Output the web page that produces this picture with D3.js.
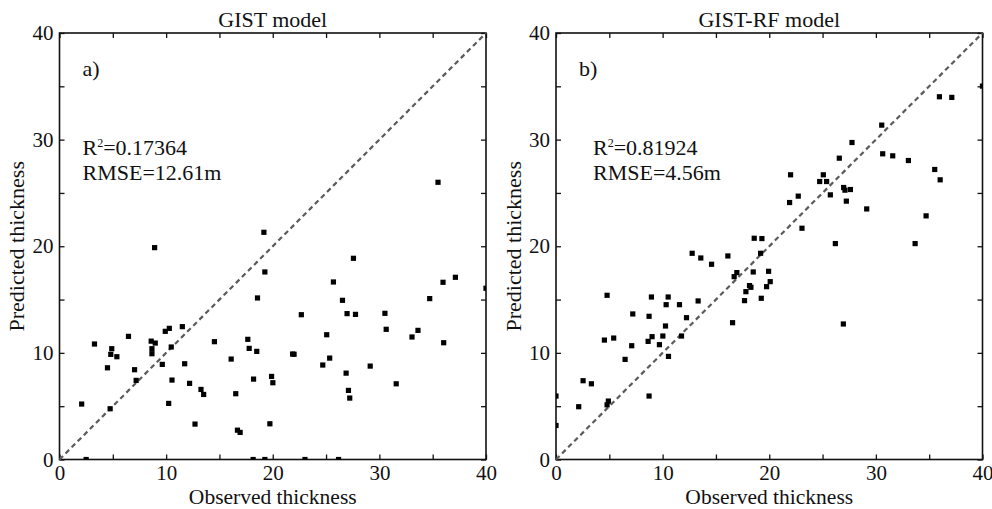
<!DOCTYPE html>
<html>
<head>
<meta charset="utf-8">
<script src="https://cdn.jsdelivr.net/npm/d3@7"></script>
<style>
  html, body { margin: 0; padding: 0; background: #fff; }
  svg { display: block; font-family: "Liberation Serif", "Times New Roman", serif; }
</style>
</head>
<body>
<svg id="chart" width="992" height="509"></svg>
<script>
// ---- Data ----
const xTicks = [0, 5, 10, 15, 20, 25, 30, 35, 40];
const yTicks = [0, 5, 10, 15, 20, 25, 30, 35, 40];
const panelTitles = ["GIST model", "GIST-RF model"];
const panelLetters = ["a)", "b)"];
const r2Values = ["0.17364", "0.81924"];
const rmseValues = ["12.61m", "4.56m"];

// GIST model: observed / predicted
const gistObserved = [2.08, 2.5, 3.28, 4.5, 4.75, 4.81, 4.9, 5.38, 6.47, 7.04, 7.19, 8.6, 8.67, 8.67, 8.92, 8.98, 9.64, 9.92, 10.24, 10.3, 10.48, 10.55, 11.52, 11.74, 12.2, 12.71, 13.27, 13.52, 14.53, 16.1, 16.53, 16.69, 16.94, 17.66, 17.79, 18.16, 18.2, 18.5, 18.57, 19.17, 19.26, 19.26, 19.73, 19.89, 20.01, 21.86, 22.0, 22.68, 23.02, 24.69, 25.06, 25.34, 25.69, 26.17, 26.54, 26.88, 26.97, 27.1, 27.22, 27.57, 27.76, 29.14, 30.52, 30.64, 31.58, 33.06, 33.62, 34.72, 35.5, 35.97, 36.03, 37.13, 40.0];
const gistPredicted = [5.2, 0, 10.83, 8.6, 4.76, 9.86, 10.39, 9.64, 11.55, 8.42, 7.42, 11.1, 10.39, 9.92, 19.87, 10.92, 8.92, 12.02, 5.26, 12.3, 10.55, 7.45, 12.46, 8.98, 7.14, 3.32, 6.57, 6.1, 11.05, 9.42, 6.17, 2.75, 2.54, 11.27, 10.42, 0, 7.54, 10.14, 15.15, 21.31, 17.59, 0, 3.35, 7.79, 7.2, 9.89, 9.87, 13.58, 0, 8.86, 11.7, 9.51, 16.65, 0, 14.93, 8.1, 13.68, 6.48, 5.76, 18.87, 13.61, 8.76, 13.71, 12.21, 7.1, 11.49, 12.11, 15.09, 26.0, 16.62, 10.95, 17.09, 16.06];

// GIST-RF model: observed / predicted
const rfObserved = [0, 0, 2.13, 2.54, 3.32, 4.54, 4.79, 4.79, 4.91, 5.41, 6.48, 7.1, 7.2, 8.64, 8.73, 8.73, 8.95, 9.01, 9.7, 10.02, 10.27, 10.33, 10.52, 10.55, 11.58, 11.77, 12.24, 12.77, 13.33, 13.58, 14.59, 16.12, 16.56, 16.71, 16.96, 17.68, 17.81, 18.15, 18.28, 18.5, 18.59, 19.19, 19.25, 19.31, 19.75, 19.94, 20.09, 21.91, 22.0, 22.72, 23.07, 24.73, 25.07, 25.38, 25.73, 26.2, 26.57, 26.95, 26.98, 27.1, 27.23, 27.61, 27.76, 29.14, 30.55, 30.64, 31.58, 33.05, 33.68, 34.71, 35.52, 35.96, 36.03, 37.12, 40.0];
const rfPredicted = [5.95, 3.19, 4.95, 7.39, 7.1, 11.2, 15.4, 5.13, 5.48, 11.39, 9.39, 10.67, 13.65, 11.08, 5.95, 13.43, 15.24, 11.52, 10.77, 11.58, 12.52, 14.52, 15.24, 9.67, 14.52, 11.58, 13.3, 19.34, 14.87, 18.9, 18.31, 19.09, 12.83, 17.15, 17.53, 14.9, 15.74, 16.31, 16.15, 17.59, 20.75, 19.34, 15.12, 20.72, 16.21, 17.65, 16.68, 24.1, 26.7, 24.7, 21.69, 26.07, 26.7, 26.07, 24.82, 20.25, 28.26, 12.71, 25.51, 25.26, 24.23, 25.32, 29.73, 23.5, 31.36, 28.67, 28.48, 28.04, 20.25, 22.85, 27.2, 34.02, 26.23, 33.96, 35.02];

(function () {
const panels = [
  { left: 59.5, obs: gistObserved, pred: gistPredicted },
  { left: 556, obs: rfObserved, pred: rfPredicted }
];

const svg = d3.select("#chart");
const plotTop = 33, size = 426.5;
const fontTick = 21, fontLabel = 21.5;
const defs = svg.append("defs");

panels.forEach((p, i) => {
  const x = d3.scaleLinear().domain([0, 40]).range([p.left, p.left + size]);
  const y = d3.scaleLinear().domain([0, 40]).range([plotTop + size, plotTop]);
  const g = svg.append("g");

  const clipId = "clip" + i;
  defs.append("clipPath").attr("id", clipId)
    .append("rect").attr("x", p.left).attr("y", plotTop).attr("width", size).attr("height", size);

  const fmt = d => (d % 10 === 0 ? d : "");

  const ax = g.append("g").attr("transform", `translate(0,${plotTop + size})`)
    .call(d3.axisBottom(x).tickValues(xTicks).tickSizeInner(-5).tickSizeOuter(0).tickPadding(5.5).tickFormat(fmt));
  const ay = g.append("g").attr("transform", `translate(${p.left},0)`)
    .call(d3.axisLeft(y).tickValues(yTicks).tickSizeInner(-5).tickSizeOuter(0).tickPadding(6).tickFormat(fmt));
  const at = g.append("g").attr("transform", `translate(0,${plotTop})`)
    .call(d3.axisTop(x).tickValues(xTicks).tickSizeInner(-5).tickSizeOuter(0).tickFormat(""));
  const ar = g.append("g").attr("transform", `translate(${p.left + size},0)`)
    .call(d3.axisRight(y).tickValues(yTicks).tickSizeInner(-5).tickSizeOuter(0).tickFormat(""));

  [ax, ay, at, ar].forEach(a => {
    a.select(".domain").remove();
    a.selectAll("line").attr("stroke", "#111").attr("stroke-width", 1.3);
    a.selectAll("text").attr("font-size", fontTick).attr("fill", "#111")
      .attr("font-family", "Liberation Serif, Times New Roman, serif");
  });

  g.append("rect").attr("x", p.left).attr("y", plotTop).attr("width", size).attr("height", size)
    .attr("fill", "none").attr("stroke", "#111").attr("stroke-width", 1.6);

  g.append("line")
    .attr("x1", x(0)).attr("y1", y(0)).attr("x2", x(40)).attr("y2", y(40))
    .attr("stroke", "#5a5a5a").attr("stroke-width", 2.2).attr("stroke-dasharray", "5,3.6");

  const pts = p.obs.map((o, k) => [o, p.pred[k]]);
  g.append("g").attr("clip-path", `url(#${clipId})`)
    .selectAll("rect").data(pts).enter().append("rect")
    .attr("x", d => x(d[0]) - 2.6).attr("y", d => y(d[1]) - 2.6)
    .attr("width", 5.2).attr("height", 5.2).attr("fill", "#000");

  g.append("text").attr("x", p.left + size / 2).attr("y", 26.5)
    .attr("text-anchor", "middle").attr("font-size", 22).attr("fill", "#111")
    .text(panelTitles[i]);

  g.append("text").attr("x", p.left + size / 2).attr("y", 504)
    .attr("text-anchor", "middle").attr("font-size", fontLabel).attr("fill", "#111")
    .text("Observed thickness");

  g.append("text")
    .attr("transform", `translate(${p.left - 35.5},${plotTop + size / 2}) rotate(-90)`)
    .attr("text-anchor", "middle").attr("font-size", 22).attr("fill", "#111")
    .text("Predicted thickness");

  g.append("text").attr("x", p.left + 23).attr("y", 76)
    .attr("font-size", 22).attr("fill", "#111").text(panelLetters[i]);

  const sx = i === 0 ? p.left + 23 : p.left + 37;
  const r2 = g.append("text").attr("x", sx).attr("y", 155)
    .attr("font-size", 22).attr("fill", "#111");
  r2.append("tspan").text("R");
  r2.append("tspan").attr("font-size", 12).attr("dy", -8.5).text("2");
  r2.append("tspan").attr("dy", 8.5).text("=" + r2Values[i]);

  g.append("text").attr("x", sx).attr("y", 180)
    .attr("font-size", 22).attr("fill", "#111").text("RMSE=" + rmseValues[i]);
});
})();
</script>
</body>
</html>
